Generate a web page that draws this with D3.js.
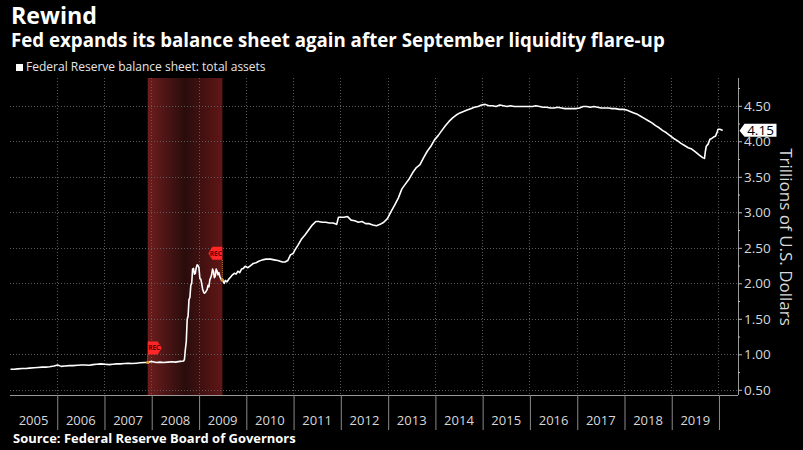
<!DOCTYPE html>
<html>
<head>
<meta charset="utf-8">
<script src="https://cdn.jsdelivr.net/npm/d3@7/dist/d3.min.js"></script>
<style>
  html, body { margin: 0; padding: 0; background: #000; }
  svg { display: block; }
  text { font-family: "Open Sans", "Noto Sans", sans-serif; }
</style>
</head>
<body>
<svg id="chart" width="803" height="450"></svg>
<script>
// ---------------- DATA ----------------
const titleText = "Rewind";
const subtitleText = "Fed expands its balance sheet again after September liquidity flare-up";
const legendText = "Federal Reserve balance sheet: total assets";
const sourceText = "Source: Federal Reserve Board of Governors";
const axisTitle = "Trillions of U.S. Dollars";

const yearLabels = ["2005","2006","2007","2008","2009","2010","2011","2012","2013","2014","2015","2016","2017","2018","2019"];
const yTicks = [0.5, 1.0, 1.5, 2.0, 2.5, 3.0, 3.5, 4.0, 4.5];
const yMinorTicks = [0.75, 1.25, 1.75, 2.25, 2.75, 3.25, 3.75, 4.25, 4.75];

const recessionStart = "2007-12-01";
const recessionEnd = "2009-06-30";
const lastValueLabel = "4.15";

const dates2005_2007 = ["2005-01-05","2005-02-02","2005-03-02","2005-04-06","2005-05-04","2005-06-01","2005-07-06","2005-08-03","2005-09-07","2005-10-05","2005-11-02","2005-12-07",
  "2006-01-04","2006-02-01","2006-03-01","2006-04-05","2006-05-03","2006-06-07","2006-07-05","2006-08-02","2006-09-06","2006-10-04","2006-11-01","2006-12-06",
  "2007-01-03","2007-02-07","2007-03-07","2007-04-04","2007-05-02","2007-06-06","2007-07-04","2007-08-01","2007-09-05","2007-10-03","2007-11-07","2007-12-05","2007-12-26"];
const values2005_2007 = [0.79,0.79,0.795,0.80,0.80,0.805,0.81,0.815,0.82,0.82,0.825,0.835,
  0.85,0.83,0.835,0.84,0.84,0.845,0.85,0.85,0.845,0.855,0.86,0.865,
  0.86,0.855,0.86,0.865,0.865,0.87,0.875,0.87,0.875,0.88,0.885,0.885,0.90];

const dates2008_2009 = ["2008-01-09","2008-02-06","2008-03-05","2008-04-02","2008-05-07","2008-06-04","2008-07-02","2008-08-06","2008-09-03","2008-09-10","2008-09-17","2008-09-24",
  "2008-10-01","2008-10-08","2008-10-15","2008-10-22","2008-10-29","2008-11-05","2008-11-12","2008-11-19","2008-11-26","2008-12-03","2008-12-10","2008-12-17","2008-12-24","2008-12-31",
  "2009-01-07","2009-01-14","2009-01-21","2009-01-28","2009-02-04","2009-02-11","2009-02-18","2009-02-25","2009-03-04","2009-03-11","2009-03-18","2009-03-25",
  "2009-04-01","2009-04-08","2009-04-15","2009-04-22","2009-04-29","2009-05-06","2009-05-13","2009-05-20","2009-05-27","2009-06-03","2009-06-10","2009-06-17","2009-06-24",
  "2009-07-01","2009-07-08","2009-07-15","2009-07-22","2009-08-05","2009-08-19","2009-09-02","2009-09-16","2009-09-30","2009-10-14","2009-10-28","2009-11-11","2009-11-25","2009-12-09","2009-12-23"];
const values2008_2009 = [0.895,0.885,0.89,0.885,0.89,0.895,0.89,0.90,0.905,0.93,1.07,1.18,
  1.49,1.54,1.77,1.80,1.97,2.00,2.20,2.21,2.13,2.14,2.22,2.26,2.25,2.22,
  2.07,2.06,2.00,1.92,1.88,1.86,1.87,1.89,1.91,1.97,1.95,2.05,
  2.08,2.12,2.20,2.17,2.08,2.10,2.20,2.17,2.12,2.15,2.10,2.07,2.04,
  2.05,2.02,2.00,2.04,2.02,2.06,2.09,2.12,2.14,2.13,2.17,2.15,2.20,2.21,2.24];

const dates2010_2013 = ["2010-01-13","2010-02-03","2010-02-24","2010-03-17","2010-04-07","2010-05-05","2010-06-02","2010-07-07","2010-08-04","2010-09-01","2010-10-06","2010-10-27","2010-11-17","2010-12-08","2010-12-29",
  "2011-01-12","2011-02-02","2011-03-02","2011-03-30","2011-04-27","2011-05-25","2011-06-22","2011-07-13","2011-08-10","2011-09-07","2011-10-05","2011-11-02","2011-11-30","2011-12-14","2011-12-28",
  "2012-01-25","2012-02-22","2012-03-21","2012-04-18","2012-05-16","2012-06-13","2012-07-11","2012-08-08","2012-09-05","2012-10-03","2012-10-31","2012-11-28","2012-12-26",
  "2013-01-23","2013-02-20","2013-03-20","2013-04-17","2013-05-15","2013-06-12","2013-07-10","2013-08-07","2013-09-04","2013-10-02","2013-10-30","2013-11-27","2013-12-25"];
const values2010_2013 = [2.22,2.25,2.28,2.29,2.31,2.33,2.34,2.34,2.33,2.32,2.30,2.30,2.32,2.40,2.42,
  2.47,2.53,2.62,2.68,2.75,2.82,2.87,2.87,2.86,2.86,2.85,2.85,2.83,2.93,2.93,
  2.93,2.94,2.89,2.88,2.86,2.87,2.84,2.84,2.82,2.81,2.83,2.86,2.91,
  3.01,3.10,3.20,3.33,3.40,3.47,3.56,3.63,3.67,3.77,3.86,3.93,4.02];

const dates2014_2017 = ["2014-01-22","2014-02-19","2014-03-19","2014-04-16","2014-05-14","2014-06-11","2014-07-09","2014-08-06","2014-09-03","2014-10-01","2014-10-29","2014-11-26","2014-12-24",
  "2015-01-21","2015-02-18","2015-03-18","2015-04-15","2015-05-13","2015-06-10","2015-07-08","2015-08-05","2015-09-02","2015-09-30","2015-10-28","2015-11-25","2015-12-23",
  "2016-01-20","2016-02-17","2016-03-16","2016-04-13","2016-05-11","2016-06-08","2016-07-06","2016-08-03","2016-08-31","2016-09-28","2016-10-26","2016-11-23","2016-12-21",
  "2017-01-18","2017-02-15","2017-03-15","2017-04-12","2017-05-10","2017-06-07","2017-07-05","2017-08-02","2017-08-30","2017-09-27","2017-10-25","2017-11-22","2017-12-20"];
const values2014_2017 = [4.08,4.15,4.22,4.28,4.33,4.37,4.40,4.42,4.44,4.46,4.48,4.49,4.51,
  4.52,4.50,4.50,4.49,4.51,4.50,4.49,4.50,4.49,4.49,4.49,4.49,4.49,
  4.49,4.50,4.49,4.48,4.48,4.47,4.47,4.48,4.47,4.46,4.46,4.46,4.46,
  4.47,4.49,4.49,4.48,4.49,4.48,4.47,4.47,4.47,4.46,4.46,4.45,4.45];

const dates2018_2020 = ["2018-01-17","2018-02-14","2018-03-14","2018-04-11","2018-05-09","2018-06-06","2018-07-04","2018-08-01","2018-08-29","2018-09-26","2018-10-24","2018-11-21","2018-12-19",
  "2019-01-16","2019-02-13","2019-03-13","2019-04-10","2019-05-08","2019-06-05","2019-07-03","2019-07-31","2019-08-28","2019-09-11","2019-09-18","2019-09-25","2019-10-09","2019-10-23","2019-11-06","2019-11-20","2019-12-04","2019-12-18","2019-12-25",
  "2020-01-08","2020-01-22","2020-01-29"];
const values2018_2020 = [4.44,4.42,4.40,4.38,4.35,4.32,4.29,4.26,4.22,4.19,4.15,4.12,4.08,
  4.04,4.01,3.97,3.94,3.91,3.89,3.85,3.81,3.77,3.76,3.86,3.93,3.96,4.03,4.04,4.06,4.07,4.13,4.17,
  4.17,4.16,4.15];

// ---------------- BUILD ----------------
const parse = d3.timeParse("%Y-%m-%d");
const allDates = [].concat(dates2005_2007, dates2008_2009, dates2010_2013, dates2014_2017, dates2018_2020);
const allValues = [].concat(values2005_2007, values2008_2009, values2010_2013, values2014_2017, values2018_2020);
const series = allDates.map((d, i) => ({ date: parse(d), value: allValues[i] }));

const svg = d3.select("#chart");
const W = 803, H = 450;
const plot = { left: 10, right: 738, top: 78, bottom: 395 };

svg.append("rect").attr("width", W).attr("height", H).attr("fill", "#000");

const x = d3.scaleTime()
  .domain([parse("2005-01-01"), parse("2020-05-27")])
  .range([plot.left, plot.right]);
const y = d3.scaleLinear()
  .domain([0.4268, 4.8915])
  .range([plot.bottom, plot.top]);

// gradient for recession
const defs = svg.append("defs");
const grad = defs.append("linearGradient").attr("id", "recGrad").attr("x1", "0%").attr("x2", "100%").attr("y1", "0%").attr("y2", "0%");
grad.append("stop").attr("offset", "0%").attr("stop-color", "#6e1d1d");
grad.append("stop").attr("offset", "50%").attr("stop-color", "#2a0c0c");
grad.append("stop").attr("offset", "100%").attr("stop-color", "#611616");

const rs = parse(recessionStart), re = parse(recessionEnd);
svg.append("rect")
  .attr("x", x(rs)).attr("y", plot.top)
  .attr("width", x(re) - x(rs)).attr("height", plot.bottom - plot.top)
  .attr("fill", "url(#recGrad)");

// gridlines
const years = d3.range(2006, 2021).map(yr => new Date(yr, 0, 1));
svg.append("g").selectAll("line").data(years).join("line")
  .attr("x1", d => x(d)).attr("x2", d => x(d))
  .attr("y1", plot.top).attr("y2", plot.bottom)
  .attr("stroke", "#5a5a5a").attr("stroke-width", 1).attr("stroke-dasharray", "1,2")
  .attr("shape-rendering", "crispEdges");
svg.append("g").selectAll("line").data(yTicks).join("line")
  .attr("x1", plot.left).attr("x2", plot.right)
  .attr("y1", d => Math.round(y(d)) + 0.5).attr("y2", d => Math.round(y(d)) + 0.5)
  .attr("stroke", "#5a5a5a").attr("stroke-width", 1).attr("stroke-dasharray", "1,2");

// bottom axis
const xAxisG = svg.append("g").attr("transform", `translate(0,${plot.bottom})`);
xAxisG.call(d3.axisBottom(x).tickValues(years).tickSize(35).tickFormat(""));
xAxisG.select(".domain").attr("stroke", "#9a9a9a").attr("d", `M${plot.left},0.5H${plot.right}`);
xAxisG.selectAll(".tick line").attr("stroke", "#8a8a8a");
const yearMid = yearLabels.map(l => new Date(+l, 6, 2));
svg.append("g").selectAll("text").data(yearLabels).join("text")
  .attr("x", (d, i) => x(yearMid[i]))
  .attr("y", 425)
  .attr("text-anchor", "middle")
  .attr("fill", "#d8d8d8")
  .attr("font-size", 13)
  .text(d => d);

// right axis
const yAxisG = svg.append("g").attr("transform", `translate(${plot.right},0)`);
yAxisG.call(d3.axisRight(y).tickValues(yTicks).tickSize(4).tickPadding(2).tickFormat(d3.format(".2f")));
yAxisG.select(".domain").attr("stroke", "#9a9a9a").attr("d", `M0.5,${plot.top}V${plot.bottom}`);
yAxisG.selectAll(".tick line").attr("stroke", "#bbbbbb");
yAxisG.selectAll(".tick text").attr("fill", "#d8d8d8").attr("font-size", 13.5)
  .attr("font-family", "'Open Sans', 'Noto Sans', sans-serif");
const yMinorG = svg.append("g").attr("transform", `translate(${plot.right},0)`);
yMinorG.call(d3.axisRight(y).tickValues(yMinorTicks).tickSize(2).tickFormat(""));
yMinorG.select(".domain").remove();
yMinorG.selectAll(".tick line").attr("stroke", "#bbbbbb");

svg.append("text")
  .attr("transform", `translate(780,237) rotate(90)`)
  .attr("text-anchor", "middle")
  .attr("fill", "#d8d8d8")
  .attr("font-size", 17)
  .text(axisTitle);

// line
const line = d3.line().x(d => x(d.date)).y(d => y(d.value)).curve(d3.curveLinear);
svg.append("path").datum(series)
  .attr("fill", "none").attr("stroke", "#ffffff").attr("stroke-width", 1.6)
  .attr("stroke-linejoin", "round")
  .attr("d", line);

// REC flags
function valueAt(date) {
  const bis = d3.bisector(d => d.date).left;
  const i = Math.min(series.length - 1, Math.max(1, bis(series, date)));
  const a = series[i - 1], b = series[i];
  const t = (date - a.date) / (b.date - a.date);
  return a.value + (b.value - a.value) * Math.max(0, Math.min(1, t));
}
function flag(date, dir, flagBottomGap) {
  const px = x(date), py = y(valueAt(date));
  const g = svg.append("g");
  const fb = py - flagBottomGap, ft = fb - 13;
  g.append("line").attr("x1", px).attr("x2", px).attr("y1", fb).attr("y2", py)
    .attr("stroke", "#d08a2a").attr("stroke-width", 1).attr("stroke-dasharray", "1,1");
  let pts;
  if (dir > 0) pts = [[px, ft], [px + 10, ft], [px + 14, (ft + fb) / 2], [px + 10, fb], [px, fb]];
  else pts = [[px, ft], [px - 10, ft], [px - 14, (ft + fb) / 2], [px - 10, fb], [px, fb]];
  g.append("polygon").attr("points", pts.map(p => p.join(",")).join(" ")).attr("fill", "#ff2626");
  g.append("text").attr("x", px + dir * 6.5).attr("y", (ft + fb) / 2 + 2.2)
    .attr("text-anchor", "middle").attr("font-size", 6.5).attr("font-weight", "bold")
    .attr("fill", "#5a0000").text("REC");
  g.append("circle").attr("cx", px).attr("cy", py).attr("r", 1.6).attr("fill", "#e0962a");
}
flag(rs, 1, 8);
flag(re, -1, 20);

// last value label
const lastVal = series[series.length - 1].value;
const ly = y(lastVal);
const lx = plot.right + 1.5;
svg.append("path")
  .attr("d", `M${lx},${ly} L${lx + 5},${ly - 7} H${lx + 37} V${ly + 6} H${lx + 5} Z`)
  .attr("fill", "#ffffff");
svg.append("text").attr("x", lx + 21).attr("y", ly + 4.8)
  .attr("text-anchor", "middle").attr("font-size", 13.5).attr("fill", "#000")
  .text(lastValueLabel);

// titles
function fitText(sel, targetWidth) {
  const w = sel.node().getComputedTextLength();
  const fs = parseFloat(sel.attr("font-size"));
  sel.attr("font-size", fs * targetWidth / w);
}
const t1 = svg.append("text").attr("x", 11).attr("y", 24).attr("fill", "#ffffff")
  .attr("font-size", 23).attr("font-weight", "bold").text(titleText);
fitText(t1, 86);
const t2 = svg.append("text").attr("x", 11).attr("y", 47).attr("fill", "#ffffff")
  .attr("font-size", 17).attr("font-weight", "bold").text(subtitleText);
fitText(t2, 654);

svg.append("rect").attr("x", 16).attr("y", 64).attr("width", 7).attr("height", 7).attr("fill", "#ffffff");
const t3 = svg.append("text").attr("x", 26).attr("y", 71).attr("fill", "#e6e6e6")
  .attr("font-size", 11).text(legendText);
fitText(t3, 240);

const t4 = svg.append("text").attr("x", 13).attr("y", 443).attr("fill", "#ffffff")
  .attr("font-size", 11).attr("font-weight", "bold").text(sourceText);
fitText(t4, 283);
</script>
</body>
</html>
